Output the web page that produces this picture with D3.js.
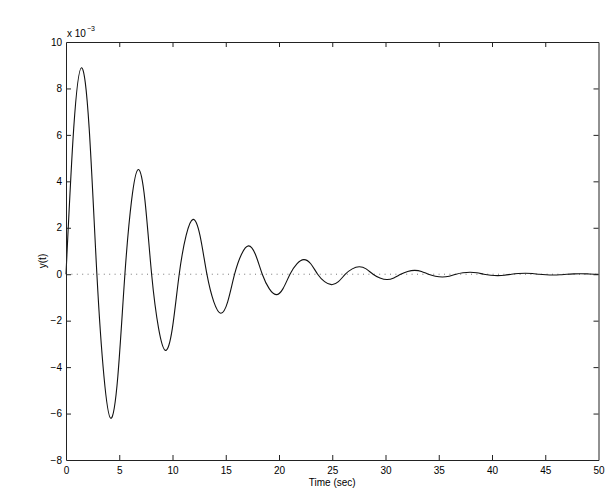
<!DOCTYPE html>
<html>
<head>
<meta charset="utf-8">
<script src="https://cdn.jsdelivr.net/npm/d3@7"></script>
<style>
  html, body { margin: 0; padding: 0; background: #fff; }
  svg { display: block; font-family: "Liberation Sans", Arial, Helvetica, sans-serif; }
</style>
</head>
<body>
<svg id="chart" width="609" height="491"></svg>
<script>
// time (sec) and response y(t) in units of 1e-3
const time = [
  0, 0.725, 1.45, 2.175, 2.9,
  3.56, 4.2, 4.87, 5.53,
  6.16, 6.78, 7.41, 8.04,
  8.69, 9.34, 9.99, 10.63,
  11.28, 11.93, 12.58, 13.23,
  13.88, 14.53, 15.18, 15.83,
  16.48, 17.13, 17.78, 18.43,
  19.08, 19.73, 20.38, 21.03,
  21.68, 22.33, 22.98, 23.63,
  24.28, 24.93, 25.58, 26.23,
  26.88, 27.53, 28.18, 28.83,
  29.48, 30.13, 30.78, 31.43,
  32.08, 32.73, 33.38, 34.03,
  34.68, 35.33, 35.98, 36.63,
  37.28, 37.93, 38.58, 39.23,
  39.88, 40.53, 41.18, 41.83,
  42.48, 43.13, 43.78, 44.43,
  45.08, 45.73, 46.38, 47.03,
  47.68, 48.33, 48.98, 49.63, 50
];
const response = [
  0, 6.29, 8.89, 6.29, 0,
  -4.38, -6.2, -4.38, 0,
  3.19, 4.51, 3.19, 0,
  -2.32, -3.28, -2.32, 0,
  1.67, 2.36, 1.67, 0,
  -1.19, -1.68, -1.19, 0,
  0.86, 1.22, 0.86, 0,
  -0.62, -0.88, -0.62, 0,
  0.45, 0.63, 0.45, 0,
  -0.32, -0.45, -0.32, 0,
  0.23, 0.32, 0.23, 0,
  -0.16, -0.23, -0.16, 0,
  0.12, 0.165, 0.12, 0,
  -0.085, -0.12, -0.085, 0,
  0.06, 0.085, 0.06, 0,
  -0.043, -0.061, -0.043, 0,
  0.031, 0.044, 0.031, 0,
  -0.023, -0.032, -0.023, 0,
  0.016, 0.023, 0.016, 0, -0.007
];
const xTicks = [0, 5, 10, 15, 20, 25, 30, 35, 40, 45, 50];
const yTicks = [-8, -6, -4, -2, 0, 2, 4, 6, 8, 10];
const xLabel = "Time (sec)";
const yLabel = "y(t)";

(function () {
const svg = d3.select("#chart");
const L = 66, R = 598.5, T = 42, B = 460;
const x = d3.scaleLinear().domain([0, 50]).range([L, R]);
const y = d3.scaleLinear().domain([-8, 10]).range([B, T]);
const tickLen = 5;
const axisColor = "#222";

// zero reference line (dotted)
svg.append("line")
  .attr("x1", x(0)).attr("x2", x(50))
  .attr("y1", y(0)).attr("y2", y(0))
  .attr("stroke", "#777").attr("stroke-width", 1)
  .attr("stroke-dasharray", "1,4.4");

// curve
const data = time.map((t, i) => [t, response[i]]);
svg.append("path")
  .datum(data)
  .attr("fill", "none")
  .attr("stroke", "#111")
  .attr("stroke-width", 1.1)
  .attr("d", d3.line().x(d => x(d[0])).y(d => y(d[1])).curve(d3.curveNatural));

// axes (inward ticks)
const gBottom = svg.append("g").attr("transform", `translate(0,${B})`)
  .call(d3.axisBottom(x).tickValues(xTicks).tickSizeInner(-tickLen).tickSizeOuter(0).tickPadding(6.5).tickFormat(d3.format("d")));
const gTop = svg.append("g").attr("transform", `translate(0,${T})`)
  .call(d3.axisTop(x).tickValues(xTicks).tickSizeInner(-tickLen).tickSizeOuter(0).tickFormat(""));
const gLeft = svg.append("g").attr("transform", `translate(${L},0)`)
  .call(d3.axisLeft(y).tickValues(yTicks).tickSizeInner(-tickLen).tickSizeOuter(0).tickPadding(4)
    .tickFormat(d => d < 0 ? "\u2212" + Math.abs(d) : String(d)));
const gRight = svg.append("g").attr("transform", `translate(${R},0)`)
  .call(d3.axisRight(y).tickValues(yTicks).tickSizeInner(-tickLen).tickSizeOuter(0).tickFormat(""));

[gBottom, gTop, gLeft, gRight].forEach(g => {
  g.select(".domain").attr("stroke", axisColor).attr("stroke-width", 1);
  g.selectAll(".tick line").attr("stroke", axisColor).attr("stroke-width", 1);
  g.selectAll("text").attr("fill", "#000").attr("font-size", 10)
    .attr("font-family", '"Liberation Sans", Arial, sans-serif');
});
[gBottom, gTop].forEach(g => g.selectAll(".tick").filter(d => d === 0 || d === 50).select("line").remove());
[gLeft, gRight].forEach(g => g.selectAll(".tick").filter(d => d === -8 || d === 10).select("line").remove());

// exponent label
const ex = svg.append("text").attr("x", L + 1).attr("y", 37)
  .attr("font-size", 10).attr("fill", "#000");
ex.append("tspan").text("x 10");
ex.append("tspan").attr("dy", -6).attr("font-size", 7).attr("dx", 1).text("\u22123");

// axis labels
svg.append("text").attr("x", (L + R) / 2).attr("y", 486)
  .attr("text-anchor", "middle").attr("font-size", 10).text(xLabel);
svg.append("text")
  .attr("transform", `translate(46,${(T + B) / 2 + 10}) rotate(-90)`)
  .attr("text-anchor", "middle").attr("font-size", 10).text(yLabel);
})();
</script>
</body>
</html>
